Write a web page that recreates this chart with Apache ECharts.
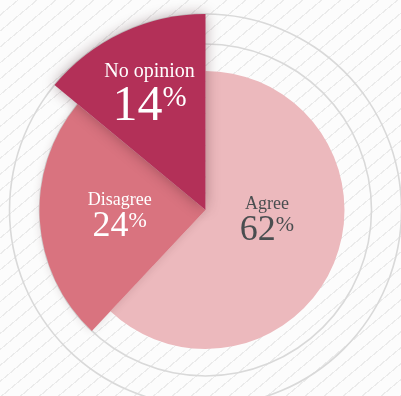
<!DOCTYPE html>
<html>
<head>
<meta charset="utf-8">
<script src="https://cdn.jsdelivr.net/npm/echarts@6/dist/echarts.min.js"></script>
<style>
  html, body { margin: 0; padding: 0; }
  body {
    width: 401px; height: 396px; overflow: hidden;
    background-color: #fcfcfc;
    background-image: repeating-linear-gradient(140deg,
      #fcfcfc 0px, #fcfcfc 11px, #ebebeb 11px, #ebebeb 12.2px);
  }
  #chart { width: 401px; height: 396px; }
</style>
</head>
<body>
<div id="chart"></div>
<script>
// Survey answers (percent of respondents)
const categories = ['Agree', 'Disagree', 'No opinion'];
const shares = [62, 24, 14];

// Look of each slice: fill, outer radius and label colour
const sliceColors = ['#ecb9bd', '#d9737f', '#b33058'];
const sliceRadius = [139, 166, 196];
const labelColors = ['#4a4e50', '#ffffff', '#ffffff'];
const labelShift = [[-6, -16], [0, 1], [-13, -24]];
const ringRadius = [166, 196];

const CENTER = [205.5, 210];
const SERIF = '"Liberation Serif", "DejaVu Serif", serif';

const chart = echarts.init(document.getElementById('chart'), null, { renderer: 'canvas' });

// Thin guide rings behind the pie
const ringSeries = ringRadius.map(function (r) {
  return {
    type: 'pie',
    silent: true,
    center: CENTER,
    radius: [r - 0.8, r + 0.8],
    z: 1,
    label: { show: false },
    labelLine: { show: false },
    itemStyle: { color: '#d9d9d9', borderWidth: 0 },
    emphasis: { disabled: true },
    data: [{ name: 'ring', value: 1 }]
  };
});

// One pie per answer, so every slice can have its own radius;
// the other answers are drawn see-through to keep the angles.
const sliceSeries = categories.map(function (name, k) {
  const color = labelColors[k];
  const big = k === 2;
  return {
    type: 'pie',
    silent: true,
    center: CENTER,
    radius: [0, sliceRadius[k]],
    startAngle: 90,
    clockwise: true,
    z: 2 + k,
    avoidLabelOverlap: false,
    emphasis: { disabled: true },
    labelLine: { show: false },
    label: {
      position: 'inside',
      formatter: function (p) {
        return '{name|' + p.name + '}\n{num|' + p.value + '}{pct|%}';
      },
      rich: {
        name: {
          fontFamily: SERIF, color: color,
          fontSize: big ? 20 : 18, lineHeight: big ? 24 : 20,
          align: 'center'
        },
        num: {
          fontFamily: SERIF, color: color,
          fontSize: big ? 50 : 36, lineHeight: big ? 46 : 32
        },
        pct: {
          fontFamily: SERIF, color: color,
          fontSize: big ? 29 : 22, lineHeight: big ? 26 : 20,
          verticalAlign: 'top'
        }
      }
    },
    labelLayout: { dx: labelShift[k][0], dy: labelShift[k][1] },
    data: categories.map(function (c, j) {
      const own = j === k;
      return {
        name: c,
        value: shares[j],
        itemStyle: own ? {
          color: sliceColors[k],
          borderWidth: 0,
          shadowBlur: k === 0 ? 0 : (big ? 14 : 8),
          shadowColor: big ? 'rgba(60,20,30,0.38)' : 'rgba(60,20,30,0.15)'
        } : { color: 'rgba(0,0,0,0)', borderWidth: 0 },
        label: { show: own }
      };
    })
  };
});

chart.setOption({
  backgroundColor: 'transparent',
  animation: false,
  series: ringSeries.concat(sliceSeries)
});
</script>
</body>
</html>
